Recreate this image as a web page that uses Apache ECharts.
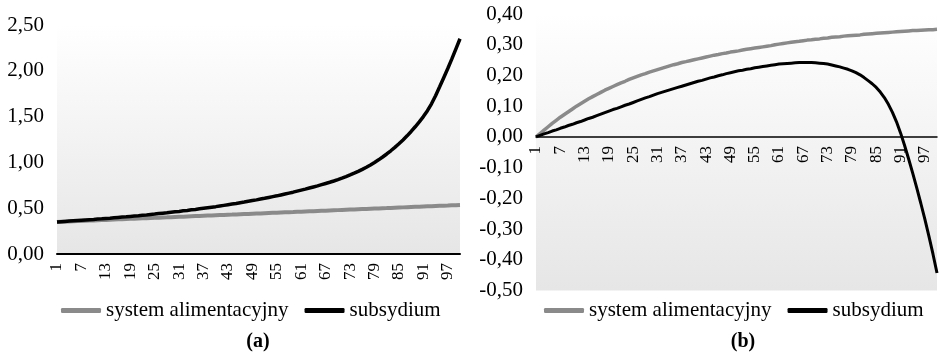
<!DOCTYPE html>
<html>
<head>
<meta charset="utf-8">
<script src="https://cdn.jsdelivr.net/npm/echarts@6/dist/echarts.min.js"></script>
<style>html,body{margin:0;padding:0;background:#fff}#c{width:940px;height:356px}</style>
</head>
<body>
<div id="c"></div>
<script>
// categories 1..100, label every 6th (1, 7, 13, ... 97)
var categories = Array.from({length: 100}, function (_, i) { return String(i + 1); });
var seriesNames = ['system alimentacyjny', 'subsydium'];
var panelTitles = ['(a)', '(b)'];

// panel (a)
var aAlimentacyjny = [
  .350,.352,.354,.356,.357,.359,.361,.363,.365,.367,
  .369,.371,.372,.374,.376,.378,.380,.382,.384,.386,
  .387,.389,.391,.393,.395,.397,.399,.400,.402,.404,
  .406,.408,.410,.412,.414,.415,.417,.419,.421,.423,
  .425,.427,.429,.430,.432,.434,.436,.438,.440,.442,
  .443,.445,.447,.449,.451,.453,.455,.457,.458,.460,
  .462,.464,.466,.468,.470,.472,.473,.475,.477,.479,
  .481,.483,.485,.486,.488,.490,.492,.494,.496,.498,
  .500,.501,.503,.505,.507,.509,.511,.513,.515,.516,
  .518,.520,.522,.524,.526,.528,.529,.531,.533,.535
];
var aSubsydium = [
  .350,.353,.356,.359,.362,.365,.368,.371,.374,.377,
  .381,.384,.388,.391,.395,.399,.403,.406,.410,.414,
  .418,.423,.427,.432,.436,.441,.446,.450,.455,.460,
  .465,.471,.476,.482,.487,.493,.499,.505,.511,.517,
  .524,.531,.538,.545,.552,.560,.567,.575,.583,.591,
  .600,.608,.617,.626,.635,.645,.655,.665,.675,.686,
  .697,.708,.720,.732,.744,.757,.770,.783,.797,.812,
  .828,.845,.863,.882,.902,.924,.947,.972,.999,1.028,
  1.059,1.092,1.127,1.164,1.203,1.245,1.290,1.338,1.389,1.443,
  1.500,1.565,1.640,1.728,1.825,1.925,2.025,2.130,2.240,2.350
];

// panel (b)
var bAlimentacyjny = [
  0,.011,.022,.033,.044,.054,.064,.073,.082,.091,
  .100,.108,.116,.124,.131,.138,.145,.152,.158,.164,
  .170,.176,.181,.187,.192,.197,.202,.206,.211,.215,
  .219,.223,.227,.231,.235,.238,.242,.245,.248,.251,
  .254,.257,.260,.263,.266,.268,.271,.273,.276,.278,
  .280,.283,.285,.287,.289,.291,.293,.295,.297,.300,
  .302,.304,.306,.308,.310,.311,.313,.315,.316,.318,
  .319,.321,.322,.324,.325,.326,.328,.329,.330,.331,
  .332,.334,.335,.336,.337,.338,.339,.340,.341,.342,
  .343,.344,.345,.346,.346,.347,.348,.349,.349,.350
];
var bSubsydium = [
  0,.005,.010,.014,.019,.023,.028,.032,.037,.041,
  .046,.050,.055,.060,.064,.069,.074,.079,.084,.089,
  .093,.098,.103,.107,.112,.117,.122,.127,.131,.136,
  .141,.145,.149,.153,.157,.161,.165,.169,.173,.177,
  .181,.184,.188,.192,.195,.199,.202,.206,.209,.212,
  .215,.217,.220,.222,.225,.227,.229,.231,.233,.235,
  .237,.238,.239,.240,.241,.242,.242,.242,.242,.241,
  .240,.239,.237,.234,.231,.228,.224,.220,.215,.209,
  .202,.193,.183,.173,.161,.146,.128,.106,.080,.049,
  .013,-.028,-.072,-.118,-.166,-.216,-.268,-.323,-.381,-.443
];

var GRAY = '#8a8a8a', BLACK = '#000000';
var FONT = '"Liberation Serif", "Times New Roman", serif';

function bg() {
  return new echarts.graphic.LinearGradient(0, 0, 0, 1, [
    {offset: 0, color: '#ffffff'},
    {offset: 1, color: '#e6e6e6'}
  ]);
}
function fmt(v) { return v.toFixed(2).replace('.', ','); }

function xAxis(gi, lw, offset) {
  return {
    type: 'category', gridIndex: gi, data: categories, boundaryGap: false,
    position: 'bottom', offset: offset,
    axisLine: {onZero: false, lineStyle: {color: '#000', width: lw}},
    axisTick: {show: false},
    splitLine: {show: false},
    axisLabel: {interval: 5, rotate: 90, margin: 9, color: '#000', fontFamily: FONT, fontSize: 17}
  };
}
function yAxis(gi, min, max, iv) {
  return {
    type: 'value', gridIndex: gi, min: min, max: max, interval: iv,
    axisLine: {show: false}, axisTick: {show: false}, splitLine: {show: false},
    axisLabel: {formatter: fmt, margin: 13, color: '#000', fontFamily: FONT, fontSize: 21}
  };
}
function legend(left) {
  return {
    left: left, top: 300, itemWidth: 40, itemHeight: 5, itemGap: 16, icon: 'roundRect',
    padding: 0, data: seriesNames,
    textStyle: {color: '#000', fontFamily: FONT, fontSize: 21, lineHeight: 20}
  };
}
function line(name, gi, data, color, w) {
  return {
    name: name, type: 'line', xAxisIndex: gi, yAxisIndex: gi, data: data,
    symbol: 'none', smooth: false, animation: false,
    lineStyle: {color: color, width: w}, itemStyle: {color: color}
  };
}

var chart = echarts.init(document.getElementById('c'), null, {renderer: 'canvas'});
chart.setOption({
  animation: false,
  backgroundColor: '#ffffff',
  title: [
    {text: panelTitles[0], left: 258, top: 332, textAlign: 'center', padding: 0,
     textStyle: {fontFamily: FONT, fontSize: 20, fontWeight: 'bold', color: '#000'}},
    {text: panelTitles[1], left: 743, top: 332, textAlign: 'center', padding: 0,
     textStyle: {fontFamily: FONT, fontSize: 20, fontWeight: 'bold', color: '#000'}}
  ],
  legend: [legend(61), legend(544)],
  grid: [
    {left: 57, top: 25, width: 403, height: 229, show: true, borderWidth: 0, backgroundColor: bg()},
    {left: 536, top: 14, width: 401, height: 276.5, show: true, borderWidth: 0, backgroundColor: bg()}
  ],
  xAxis: [xAxis(0, 2, 0), xAxis(1, 1.5, -153.6)],
  yAxis: [yAxis(0, 0, 2.5, 0.5), yAxis(1, -0.5, 0.4, 0.1)],
  series: [
    line(seriesNames[0], 0, aAlimentacyjny, GRAY, 4),
    line(seriesNames[1], 0, aSubsydium, BLACK, 3.5),
    line(seriesNames[0], 1, bAlimentacyjny, GRAY, 3.5),
    line(seriesNames[1], 1, bSubsydium, BLACK, 3)
  ]
});
</script>
</body>
</html>
